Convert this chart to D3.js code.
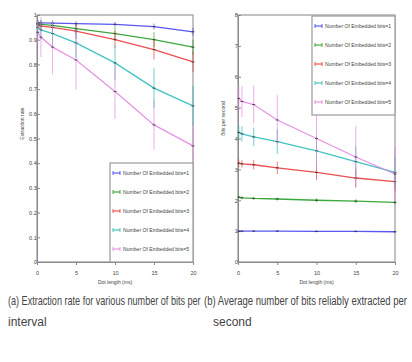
<!DOCTYPE html>
<html>
<head>
<meta charset="utf-8">
<script src="https://cdn.jsdelivr.net/npm/d3@7"></script>
<style>
  body { margin: 0; background: #fff; }
  svg { display: block; }
  text { font-family: "Liberation Sans", Arial, sans-serif; fill: #444; }
</style>
</head>
<body>
<svg id="chart" width="412" height="362"></svg>
<script>
// dot lengths (x values), same for both panels
const dotLength = [0.1, 0.5, 2, 5, 10, 15, 20];
const xTicks = [0, 5, 10, 15, 20];
const bitsLabels = ['1', '2', '3', '4', '5'];

// (a) extraction rate, one array per number of embedded bits
const rate1 = [0.968, 0.968, 0.967, 0.965, 0.962, 0.953, 0.932];
const rate2 = [0.965, 0.962, 0.958, 0.945, 0.925, 0.9, 0.87];
const rate3 = [0.96, 0.955, 0.95, 0.935, 0.9, 0.86, 0.81];
const rate4 = [0.95, 0.94, 0.925, 0.887, 0.806, 0.704, 0.632];
const rate5 = [0.93, 0.91, 0.87, 0.818, 0.69, 0.555, 0.47];
const rateErr = [
  [0.01, 0.01, 0.01, 0.01, 0.01, 0.012, 0.015],
  [0.012, 0.012, 0.015, 0.02, 0.025, 0.03, 0.03],
  [0.015, 0.02, 0.025, 0.03, 0.035, 0.04, 0.04],
  [0.03, 0.04, 0.05, 0.06, 0.07, 0.08, 0.08],
  [0.05, 0.08, 0.11, 0.12, 0.11, 0.1, 0.09]
];
const rateTicks = [0, 0.1, 0.2, 0.3, 0.4, 0.5, 0.6, 0.7, 0.8, 0.9, 1];

// (b) average bits reliably extracted per second
const bps1 = [1.0, 1.0, 1.0, 1.0, 0.99, 0.99, 0.98];
const bps2 = [2.1, 2.08, 2.06, 2.04, 2.0, 1.97, 1.93];
const bps3 = [3.2, 3.18, 3.15, 3.05, 2.9, 2.72, 2.6];
const bps4 = [4.2, 4.15, 4.05, 3.9, 3.6, 3.25, 2.9];
const bps5 = [5.3, 5.2, 5.1, 4.6, 4.0, 3.4, 2.85];
const bpsErr = [
  [0.03, 0.03, 0.03, 0.03, 0.03, 0.03, 0.03],
  [0.05, 0.05, 0.05, 0.05, 0.06, 0.06, 0.06],
  [0.12, 0.12, 0.15, 0.2, 0.25, 0.3, 0.3],
  [0.2, 0.25, 0.3, 0.4, 0.5, 0.5, 0.5],
  [0.4, 0.5, 0.6, 0.8, 1.0, 1.0, 0.9]
];
const bpsTicks = [0, 1, 2, 3, 4, 5, 6, 7, 8];

const colors = ['#3a3af0', '#1a9a1a', '#e83030', '#20b8b8', '#e080e0'];

const svg = d3.select('#chart');

function panel(opt) {
  const x = d3.scaleLinear().domain([0, 20]).range([opt.left, opt.right]);
  const y = d3.scaleLinear().domain(opt.yDomain).range([opt.bottom, opt.top]);
  const g = svg.append('g');

  // frame
  g.append('rect')
    .attr('x', opt.left).attr('y', opt.top)
    .attr('width', opt.right - opt.left).attr('height', opt.bottom - opt.top)
    .attr('fill', 'none').attr('stroke', '#999').attr('stroke-width', 1.2);

  const xa = g.append('g').attr('transform', `translate(0,${opt.bottom})`)
    .call(d3.axisBottom(x).tickValues(xTicks).tickSize(3).tickFormat(d3.format('d')));
  const ya = g.append('g').attr('transform', `translate(${opt.left},0)`)
    .call(d3.axisLeft(y).tickValues(opt.yTicks).tickSize(-3).tickFormat(opt.fmt));
  [xa, ya].forEach(a => {
    a.select('.domain').attr('stroke', '#888');
    a.selectAll('.tick line').attr('stroke', '#888');
    a.selectAll('.tick text').attr('font-size', 5.5).attr('fill', '#555');
  });
  xa.selectAll('.tick text').attr('dy', '1.3em');
  ya.selectAll('.tick text').attr('dx', '0.5em');

  g.append('text').attr('x', (opt.left + opt.right) / 2).attr('y', opt.bottom + 22)
    .attr('text-anchor', 'middle').attr('font-size', 5).text('Dot length (ms)');
  g.append('text')
    .attr('transform', `translate(${opt.left - 13},${(opt.top + opt.bottom) / 2 + opt.ylabShift}) rotate(-90)`)
    .attr('text-anchor', 'middle').attr('font-size', 5).text(opt.ylab);

  const line = d3.line().x((d, i) => x(dotLength[i])).y(d => y(d));
  opt.series.forEach((s, k) => {
    const c = colors[k];
    g.append('path').datum(s).attr('d', line)
      .attr('fill', 'none').attr('stroke', c).attr('stroke-width', 1.3).attr('opacity', 0.85);
    const eb = g.append('g').selectAll('g').data(s).join('g');
    eb.append('line')
      .attr('x1', (d, i) => x(dotLength[i])).attr('x2', (d, i) => x(dotLength[i]))
      .attr('y1', (d, i) => y(d - opt.err[k][i])).attr('y2', (d, i) => y(d + opt.err[k][i]))
      .attr('stroke', c).attr('stroke-width', 0.8).attr('opacity', 0.8);
    eb.append('line')
      .attr('x1', (d, i) => x(dotLength[i]) - 1.5).attr('x2', (d, i) => x(dotLength[i]) + 1.5)
      .attr('y1', d => y(d)).attr('y2', d => y(d))
      .attr('stroke', '#333').attr('stroke-width', 0.8);
  });

  // legend
  const lg = g.append('g');
  lg.append('rect').attr('x', opt.lx).attr('y', opt.ly).attr('width', 83).attr('height', 99)
    .attr('fill', '#fff').attr('stroke', '#999').attr('stroke-width', 1.2);
  bitsLabels.forEach((b, k) => {
    const yy = opt.ly + 10 + k * 19;
    lg.append('line').attr('x1', opt.lx + 3).attr('x2', opt.lx + 10).attr('y1', yy).attr('y2', yy)
      .attr('stroke', colors[k]).attr('stroke-width', 1);
    [opt.lx + 3, opt.lx + 10].forEach(xx => lg.append('line')
      .attr('x1', xx).attr('x2', xx).attr('y1', yy - 2).attr('y2', yy + 2)
      .attr('stroke', colors[k]).attr('stroke-width', 0.8));
    lg.append('text').attr('x', opt.lx + 13).attr('y', yy + 2).attr('font-size', 5.5)
      .attr('textLength', 66).attr('lengthAdjust', 'spacingAndGlyphs')
      .text('Number Of Embedded bits=' + b);
  });
}

panel({
  left: 37, right: 193, top: 15, bottom: 262,
  yDomain: [0, 1], yTicks: rateTicks, fmt: d3.format('.1~f'),
  series: [rate1, rate2, rate3, rate4, rate5], err: rateErr,
  ylab: 'Extraction rate', ylabShift: -15,
  lx: 110, ly: 163
});
panel({
  left: 238, right: 395, top: 15, bottom: 262,
  yDomain: [0, 8], yTicks: bpsTicks, fmt: d3.format('d'),
  series: [bps1, bps2, bps3, bps4, bps5], err: bpsErr,
  ylab: 'Bits per second', ylabShift: -20,
  lx: 312, ly: 16
});

// captions: squeezed horizontally with a transform so each half keeps to its column
function caption(x, y, width, str) {
  const t = svg.append('text').attr('font-size', 12).text(str);
  const w = t.node().getComputedTextLength();
  t.attr('transform', `translate(${x},${y}) scale(${width / w},1)`);
}
caption(8, 305, 193, '(a) Extraction rate for various number of bits per');
caption(204, 305, 203, '(b) Average number of bits reliably extracted per');
svg.append('text').attr('x', 8).attr('y', 326).attr('font-size', 12).text('interval');
svg.append('text').attr('x', 213).attr('y', 326).attr('font-size', 12).text('second');
</script>
</body>
</html>
